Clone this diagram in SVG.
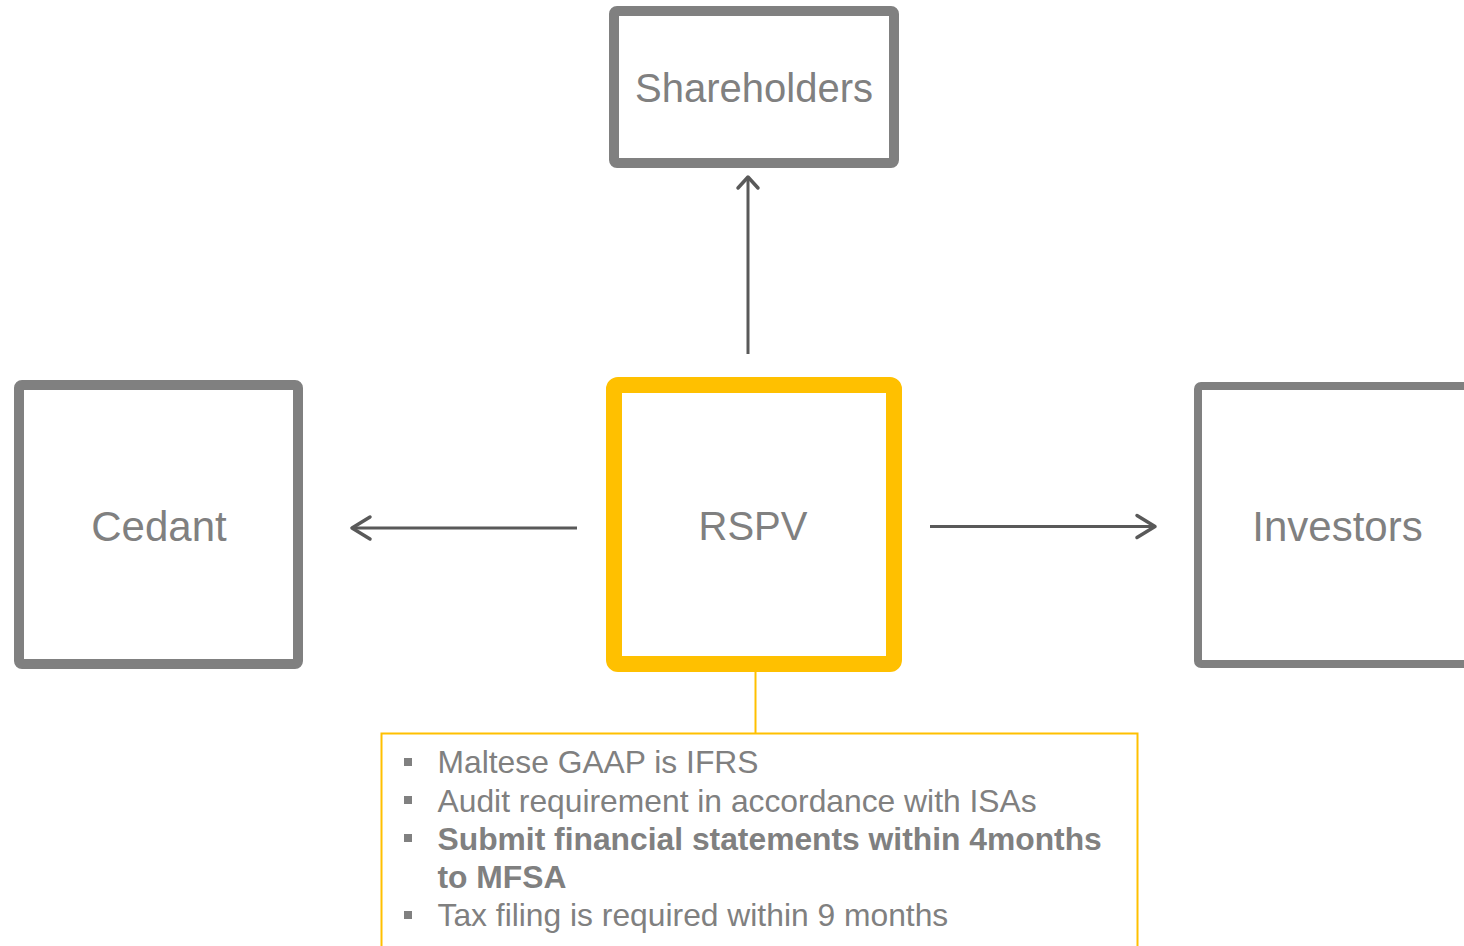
<svg xmlns="http://www.w3.org/2000/svg" width="1464" height="946" viewBox="0 0 1464 946">
<defs>
<style>
.box{fill:#fff;stroke:#808080;stroke-width:10}
.lbl{font-family:"Liberation Sans",Arial,sans-serif;font-size:42px;fill:#808080;text-anchor:middle}
.conn{stroke:#595959;stroke-width:3;fill:none}
.head{stroke:#595959;stroke-width:3.5;fill:none;stroke-linecap:round;stroke-linejoin:round}
.bt{font-family:"Liberation Sans",Arial,sans-serif;font-size:31.8px;fill:#808080}
.bul{fill:#808080}
</style>
</defs>
<rect width="1464" height="946" fill="#fff"/>
<g id="shareholders">
<rect class="box" x="614" y="11" width="280" height="152" rx="3"/>
<text class="lbl" x="754" y="102" style="font-size:40px">Shareholders</text>
</g>
<g id="cedant">
<rect class="box" x="19" y="385" width="279" height="279" rx="3"/>
<text class="lbl" x="159" y="541">Cedant</text>
</g>
<g id="rspv">
<rect x="614" y="385" width="280" height="279" rx="4" fill="#fff" stroke="#FFC000" stroke-width="16"/>
<text class="lbl" x="753" y="540" style="font-size:40px">RSPV</text>
</g>
<g id="investors">
<rect x="1198" y="386" width="290" height="278" rx="3" fill="#fff" stroke="#808080" stroke-width="8"/>
<text class="lbl" x="1337.5" y="541">Investors</text>
</g>
<g id="connectors">
<line class="conn" x1="748" y1="354" x2="748" y2="178"/>
<polyline class="head" points="738,188 748,177 758,188"/>
<line class="conn" x1="577" y1="528" x2="353" y2="528"/>
<polyline class="head" points="370,517 352,528 370,539"/>
<line class="conn" x1="930" y1="526.5" x2="1154" y2="526.5"/>
<polyline class="head" points="1137,515.5 1155,526.5 1137,537.5"/>
<line x1="755.5" y1="672" x2="755.5" y2="733" stroke="#FFC000" stroke-width="2"/>
</g>
<g id="notes">
<rect x="381.5" y="733.5" width="756" height="230" fill="none" stroke="#FFC000" stroke-width="2"/>
<rect class="bul" x="404" y="758" width="8" height="8"/>
<text class="bt" x="437.5" y="773">Maltese GAAP is IFRS</text>
<rect class="bul" x="404" y="796" width="8" height="8"/>
<text class="bt" x="437.5" y="811.5">Audit requirement in accordance with ISAs</text>
<rect class="bul" x="404" y="834" width="8" height="8"/>
<text class="bt" x="437.5" y="849.5" font-weight="bold">Submit financial statements within 4months</text>
<text class="bt" x="437.5" y="888" font-weight="bold">to MFSA</text>
<rect class="bul" x="404" y="911" width="8" height="8"/>
<text class="bt" x="437.5" y="926">Tax filing is required within 9 months</text>
</g>
</svg>
